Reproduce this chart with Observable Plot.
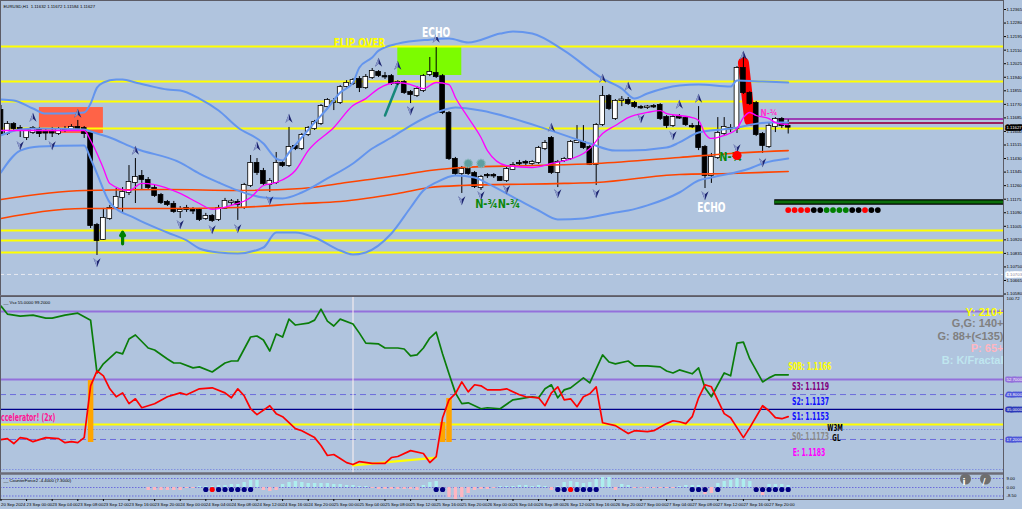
<!DOCTYPE html>
<html>
<head>
<meta charset="utf-8">
<script src="https://cdn.jsdelivr.net/npm/d3@7"></script>
<script src="https://cdn.jsdelivr.net/npm/@observablehq/plot@0.6"></script>
<style>
html, body { margin: 0; padding: 0; background: #b0c4de; }
#chart { position: relative; width: 1022px; height: 509px; overflow: hidden; background: #b0c4de; }
</style>
</head>
<body>
<div id="chart"></div>
<script>
// ===================== DATA =====================
const header = "EURUSD,H1  1.11632 1.11672 1.11584 1.11627";
// H1 candles, prices in points (1e-5)
const openPts = [111731,111587,111643,111618,111562,111593,111612,111593,111593,111587,111612,111606,111625,111618,111587,111010,110923,111054,111123,111186,111217,111280,111317,111292,111242,111198,111154,111142,111098,111117,111104,111104,111054,111067,111048,111117,111154,111154,111123,111261,111399,111349,111267,111280,111399,111386,111506,111493,111581,111618,111650,111756,111781,111781,111882,111901,111926,111875,111938,111970,111944,111944,111901,111907,111844,111825,111857,111957,111963,111944,111712,111424,111336,111361,111336,111248,111324,111324,111311,111292,111361,111399,111405,111399,111405,111493,111556,111343,111418,111430,111531,111531,111499,111393,111643,111819,111681,111794,111794,111775,111750,111750,111756,111763,111687,111637,111687,111681,111631,111631,111499,111324,111437,111587,111618,111618,111995,111838,111775,111581,111506,111631,111675,111632];
const highPts = [111763,111662,111656,111637,111618,111631,111625,111618,111625,111625,111631,111643,111669,111631,111600,111023,111117,111136,111242,111248,111386,111430,111355,111311,111261,111211,111167,111161,111129,111136,111123,111117,111086,111079,111136,111180,111173,111173,111274,111449,111430,111368,111305,111468,111412,111625,111518,111587,111631,111669,111769,111806,111806,111888,111919,111932,111944,111957,111995,111982,111970,111957,111919,111919,111857,111882,111957,112064,112126,111957,111725,111437,111380,111374,111349,111324,111336,111336,111317,111374,111405,111418,111418,111418,111506,111543,111568,111418,111437,111543,111637,111637,111512,111650,111882,111832,111800,111819,111813,111788,111763,111763,111769,111775,111700,111700,111706,111694,111650,111756,111512,111462,111687,111687,111643,112007,112095,111850,111788,111593,111656,111687,111687,111672];
const lowPts = [111575,111575,111600,111562,111543,111581,111562,111543,111562,111575,111593,111600,111606,111556,110991,110822,110916,111042,111111,111086,111198,111148,111230,111230,111186,111142,111129,111086,111054,111092,111079,111035,111042,111029,111035,111111,111136,111042,111111,111248,111324,111261,111217,111267,111374,111374,111480,111480,111568,111606,111637,111744,111731,111769,111869,111888,111844,111863,111926,111938,111926,111888,111888,111832,111775,111813,111844,111944,111932,111706,111418,111324,111211,111324,111242,111230,111305,111305,111286,111280,111355,111386,111386,111386,111393,111480,111330,111248,111405,111418,111524,111487,111386,111261,111631,111731,111669,111756,111763,111744,111738,111738,111744,111669,111618,111625,111675,111631,111618,111480,111242,111274,111424,111568,111593,111587,111832,111763,111568,111462,111493,111593,111618,111584];
const closePts = [111587,111643,111618,111615,111606,111618,111587,111590,111590,111612,111610,111625,111618,111587,111010,110916,111054,111117,111186,111217,111280,111311,111299,111248,111198,111154,111142,111098,111104,111111,111101,111048,111067,111042,111117,111161,111158,111142,111261,111399,111343,111274,111286,111399,111386,111499,111493,111575,111618,111656,111756,111794,111785,111875,111901,111919,111875,111938,111976,111951,111942,111901,111907,111844,111832,111863,111944,111970,111944,111719,111430,111336,111361,111336,111255,111311,111322,111321,111292,111361,111386,111397,111402,111405,111493,111524,111343,111405,111424,111531,111537,111499,111393,111637,111819,111744,111788,111797,111775,111756,111748,111753,111754,111681,111637,111687,111684,111643,111629,111499,111324,111437,111587,111625,111616,111995,111844,111775,111581,111512,111631,111675,111637,111627];

// Bollinger bands (bar index, points)
const upperBar = [0,2,5,7,10,13,14,15,16,18,19,21,23,26,28,31,34,37,41,43,44,45,47,49,51,53,55,56,58,59,62,67,70,73,78,80,83,88,94,97,99,101,106,109,114,115,119,123];
const upperPts = [111800,111794,111744,111712,111712,111719,111775,111875,111907,111926,111926,111907,111888,111863,111857,111806,111731,111625,111524,111430,111418,111468,111562,111656,111744,111844,111907,112001,112064,112107,112151,112176,112183,112158,112214,112227,112214,112107,111932,111869,111806,111838,111888,111894,111882,111919,111913,111907];
const midBar = [0,3,6,13,14,17,21,28,31,34,37,41,44,47,51,55,58,61,64,67,71,75,80,85,92,96,98,104,106,109,114,120,123];
const midPts = [111575,111612,111618,111612,111600,111562,111493,111405,111336,111280,111230,111186,111180,111217,111305,111399,111493,111562,111637,111700,111750,111731,111681,111618,111524,111480,111480,111499,111531,111593,111618,111656,111656];
const lowerBar = [0,3,6,13,14,15,17,21,26,29,31,34,37,41,43,46,49,53,55,57,61,64,66,68,71,74,76,81,84,87,91,96,98,101,106,109,111,117,119,123];
const lowerPts = [111343,111480,111506,111512,111430,111336,111154,111054,110966,110916,110866,110841,110835,110872,110966,110966,110935,110853,110828,110841,110960,111123,111230,111280,111324,111311,111274,111167,111104,111048,111054,111092,111104,111136,111217,111292,111311,111368,111399,111430];
// fast MA (magenta)
const fastBar = [0,6,13,14,15,16,17,20,22,24,28,31,33,36,39,41,43,46,48,52,55,57,59,62,64,66,68,70,71,73,75,76,79,83,86,91,92,94,96,98,101,103,104,106,108,109,110,111,113,115,116,117,118,120,121,123];
const fastPts = [111606,111606,111606,111543,111462,111368,111274,111230,111274,111267,111211,111148,111111,111136,111186,111261,111280,111355,111480,111625,111763,111806,111869,111907,111894,111869,111907,111894,111813,111687,111562,111480,111386,111374,111399,111462,111493,111587,111637,111687,111719,111731,111712,111700,111687,111669,111587,111556,111575,111618,111687,111719,111700,111681,111656,111643];
// slow MAs (orange-red)
const slow1Bar = [0,13,26,37,47,53,62,67,72,83,93,106,114,123];
const slow1Pts = [111173,111230,111236,111230,111242,111274,111324,111355,111374,111386,111399,111437,111462,111480];
const slow2Bar = [0,13,26,37,47,53,62,67,72,88,93,106,114,123];
const slow2Pts = [111054,111117,111117,111123,111148,111161,111211,111248,111261,111274,111280,111330,111336,111349];

// horizontal levels (points)
const yellowLevelPts = [112133,111913,111788,111618,110979,110916,110841];
const dashedLevelPts = 110703;
const purpleLevelPts = [111678, 111653];
const levelStartBar = 121;
const statusLinePts = 111158, statusLineStart = 120.9;
const statusDotPts = 111107;
const statusDotBar = [123,124,125,126,127,128,129,130,131,132,133,134,135,136,137];
const statusDotColor = ["red","red","red","red","black","black","green","green","green","green","black","black","red","black","black"];

// zones
const zoneBar1 = [6, 62], zoneBar2 = [16, 72];
const zoneTopPts = [111750, 112133], zoneBotPts = [111587, 111951];
const strokeBars = [116, 117], strokePts = [112032, 111669];     // red highlight
const tealBars = [60, 62], tealPts = [111700, 111901];           // teal trendline
const signalBar = 19, signalFromPts = 110895, signalToPts = 110968; // green up arrow
const gearBar = [73, 75], gearPts = 111399;
const blobBar = 115, blobPts = 111449;

// fractals
const upFractalBar = [5,12,21,40,45,59,62,68,86,94,98,106,109,116];
const upFractalPts = [111687,111712,111480,111506,111681,112032,112013,112183,111625,111932,111882,111769,111806,112076];
const downFractalBar = [3,8,15,28,33,37,42,64,72,75,79,87,93,100,105,110,115,119];
const downFractalPts = [111512,111512,110778,111017,110985,110991,111167,111731,111167,111198,111236,111211,111211,111681,111575,111198,111493,111405];

// chart labels
const labelText = ["FLIP OVER","ECHO","ECHO","N-¾N-¾","N-¾","N-¾"];
const labelBar = [56, 68, 111, 77.6, 114, 120];
const labelPts = [112158, 112220, 111120, 111142, 111437, 111712];

const priceTicks = [1.12365,1.12280,1.12195,1.12110,1.12025,1.11940,1.11855,1.11770,1.11685,1.11600,1.11515,1.11430,1.11345,1.11260,1.11175,1.11090,1.11005,1.10920,1.10835,1.10750,1.10665,1.10580];

// oscillator panel
const oscTitle = "Vsx 55.0000 99.2000";
const greenBar = [0,1,3,5,7,8,10,11,12,14,15,16,18,19,20,21,23,24,26,27,28,30,31,33,35,36,37,39,40,41,42,43,44,45,46,48,49,50,51,52,53,55,56,57,59,60,62,63,64,65,66,67,68,69,70,71,72,73,75,76,78,80,81,83,84,85,86,87,88,89,91,92,94,95,96,98,99,101,103,104,105,106,108,109,110,111,113,114,115,116,117,119,120,121,123];
const greenVal = [96.2,91.5,90.3,90.9,89.1,89.1,90.9,91.5,92.0,87.9,56.6,62.0,69.0,67.9,76.7,79.1,71.4,70.2,64.9,62.5,62.5,59.6,60.2,57.2,62.5,63.7,63.7,77.9,78.5,76.1,69.6,79.7,77.9,88.5,85.0,86.1,87.9,94.4,87.3,84.4,88.5,85.6,80.2,74.3,73.8,71.4,71.4,70.8,66.7,67.3,71.4,77.3,80.8,67.9,56.1,44.8,38.4,38.9,35.4,36.0,35.4,40.7,41.3,42.5,41.9,47.2,49.6,41.9,46.6,47.8,53.7,50.7,67.3,63.1,62.0,63.7,60.8,60.8,60.2,57.8,56.6,58.4,56.1,59.6,47.8,42.5,56.6,54.9,74.3,74.9,64.9,51.3,53.7,55.5,55.5];
const redBar = [0,1,2,3,4,5,7,9,10,11,12,13,14,15,16,17,18,19,20,21,22,24,26,28,29,31,33,35,36,37,38,39,40,42,43,44,46,47,49,50,51,52,53,54,55,56,58,60,61,62,64,66,67,68,69,70,71,72,73,74,75,76,78,79,81,82,84,85,86,87,88,89,90,91,92,93,94,96,98,99,101,102,104,105,106,107,108,109,110,111,113,114,116,117,119,120,121,122,123];
const redVal = [17.1,17.7,14.8,18.3,17.7,15.9,18.3,17.7,15.3,15.9,15.3,18.3,49.0,57.8,54.9,47.2,42.5,44.8,38.4,41.3,36.0,38.4,42.5,44.8,43.7,47.2,47.8,44.8,41.9,47.2,43.1,35.4,31.9,37.2,32.5,30.7,23.6,22.4,18.3,13.6,7.7,8.3,5.9,3.5,2.4,4.1,3.0,3.0,6.5,7.1,10.6,8.9,3.5,7.1,30.1,40.7,44.3,51.3,45.4,49.6,49.0,46.6,46.6,47.2,43.7,42.5,41.9,37.2,44.8,48.4,40.7,41.3,36.6,42.5,44.3,48.4,27.1,25.4,20.7,22.4,21.8,22.4,26.6,28.3,27.7,26.6,30.7,41.9,49.6,48.4,32.5,30.1,18.3,24.2,37.2,34.2,30.1,29.5,30.7];
const accelBar = [14, 69, 70], accelLo = [15.4, 15.4, 15.4], accelHi = [52.1, 27.3, 41.5];
const trendBar = [55, 68], trendVal = [1.8, 6.5];
const cursorBar = 55;
const purpleLv = [93.0, 52.7], dashedLv = [43.8, 17.2], navyLv = [35.0], yellowLv = [26.1], dottedLv = [23.1, -0.6];
const boxLv = [52.7, 43.8, 35.0, 17.2];
const oscTopLabel = 100.72;
const infoText = ["Y: 210+","G,G: 140+","G: 88+(<135)","P: 65+","B: K/Fractal"];
const pivotText = ["S0B: 1.1166","S3: 1.1119","S2: 1.1137","S1: 1.1153","S0: 1.1173","E: 1.1183"];
const pivotBar = [123, 123.6, 123.6, 123.6, 123.6, 123.7];
const pivotVal = [60.4, 48.6, 39.7, 30.8, 19.0, 9.5];
const tagText = ["W3M", "GL"], tagBar = [129.1, 129.9], tagVal = [23.9, 17.9];
const accelText = "Accelerator! (2x)", accelTextBar = 8.5, accelTextVal = 30.2;

// counter-force panel
const cfTitle = "CounterForce2 -4.4000 (7.3000)";
const cfStart = 23;
const cfHist = [-3,-3,-3,-3,-3,-3,-1,-1,1,1,1,2,2,3,3,5,7,7,-3,-4,-3,3,5,6,5,4,4,4,4,3,3,2,2,1,1,-1,-2,-2,-2,-2,-2,-2,-3,2,5,6,-5,-10,-12,-10,-6,-3,-2,-2,-1,1,1,
                1,2,2,1,2,1,-3,1,5,6,5,4,5,8,10,10,-3,3,2,-1,-1,-1,-1,-1,-1,-1,1,2,2,2,-7,-6,4,6,7,9,8,6,-4,-8,3,3,3,2];
const cfLevels = [9, 0, -8.5];
const cfDotBar = [32,33,34,35,36,37,38,39,68,69,87,88,89,90,91,92,93,108,109,110,112,118,119,120,121,122,123];
const cfDotRed = [33, 89];
const cfDotVal = -2;
const timeTicks = d3.range(0, 121, 4);
const timeLabels = ["20 Sep 2024","23 Sep 00:00","23 Sep 04:00","23 Sep 08:00","23 Sep 12:00","23 Sep 16:00","23 Sep 20:00","24 Sep 00:00","24 Sep 04:00","24 Sep 08:00","24 Sep 12:00","24 Sep 16:00","24 Sep 20:00","25 Sep 00:00","25 Sep 04:00","25 Sep 08:00","25 Sep 12:00","25 Sep 16:00","25 Sep 20:00","26 Sep 00:00","26 Sep 04:00","26 Sep 08:00","26 Sep 12:00","26 Sep 16:00","26 Sep 20:00","27 Sep 00:00","27 Sep 04:00","27 Sep 08:00","27 Sep 12:00","27 Sep 16:00","27 Sep 20:00"];

// ===================== RENDER =====================
const X_DOMAIN = [-0.078, 156.64];
const WIDTH = 1022, MR = 19;
const BOLD = "DejaVu Sans, sans-serif";
const SANS = "Liberation Sans, Arial, sans-serif";
const P = v => v / 1e5;
const style = top => `position:absolute;left:0;top:${top}px;background:transparent;overflow:hidden;font-family:${SANS};max-width:none;`;
const pts = (xs, vs, f = P) => xs.map((x, k) => ({x, y: f(vs[k])}));

const arrowSym = (dir, half) => ({
  draw(ctx, size) {
    const r = Math.sqrt(size / Math.PI), s = dir;
    ctx.moveTo(0, -1.15 * r * s);
    if (!half) ctx.lineTo(0.85 * r, r * s);
    ctx.lineTo(0, 0.3 * r * s);
    ctx.lineTo(-0.85 * r, r * s);
    ctx.closePath();
  }
});

const bars = openPts.map((o, i) => ({i, o: P(o), h: P(highPts[i]), l: P(lowPts[i]), c: P(closePts[i])}));
const zones = zoneBar1.map((b, k) => ({x1: b, x2: zoneBar2[k], y1: P(zoneBotPts[k]), y2: P(zoneTopPts[k])}));
const upFr = pts(upFractalBar, upFractalPts), dnFr = pts(downFractalBar, downFractalPts);
const lab = labelText.map((t, k) => ({t, x: labelBar[k], y: P(labelPts[k])}));
const lineOpt = (stroke, w) => ({x: "x", y: "y", stroke, strokeWidth: w, curve: "monotone-x"});
const txt = (d, o) => Plot.text([d], {x: "x", y: "y", text: "t", fontWeight: "bold", fontFamily: BOLD, ...o});

const mainPlot = Plot.plot({
  width: WIDTH, height: 297, marginLeft: 0, marginRight: MR, marginTop: 0, marginBottom: 1,
  x: {domain: X_DOMAIN, axis: null},
  y: {domain: [1.105646, 1.124215], axis: null},
  color: {type: "identity"},
  style: style(0),
  marks: [
    Plot.rect([zones[0]], {x1: "x1", x2: "x2", y1: "y1", y2: "y2", fill: "#ff6347"}),
    Plot.rect([zones[1]], {x1: "x1", x2: "x2", y1: "y1", y2: "y2", fill: "#7cfc00"}),
    Plot.ruleY(yellowLevelPts.map(P), {stroke: "#ffff00", strokeWidth: 2}),
    Plot.ruleY([P(dashedLevelPts)], {stroke: "#e6e9f2", strokeDasharray: "4,3"}),
    Plot.ruleY([P(purpleLevelPts[0])], {x1: levelStartBar, x2: X_DOMAIN[1], stroke: "#9b3fb5", strokeWidth: 2}),
    Plot.ruleY([P(purpleLevelPts[1])], {x1: levelStartBar, x2: X_DOMAIN[1], stroke: "#9a1f5e", strokeWidth: 2}),
    Plot.ruleY([P(statusLinePts)], {x1: statusLineStart, x2: X_DOMAIN[1], stroke: "#000", strokeWidth: 5.5}),
    Plot.ruleY([P(statusLinePts)], {x1: statusLineStart, x2: X_DOMAIN[1], stroke: "#0b6e0b", strokeWidth: 3}),
    Plot.dot(statusDotBar.map((b, k) => ({x: b, c: statusDotColor[k]})), {x: "x", y: () => P(statusDotPts), fill: "c", r: 2.9}),
    Plot.line(pts(strokeBars, strokePts), {x: "x", y: "y", stroke: "#ff0000", strokeWidth: 11, strokeLinecap: "round"}),
    Plot.line(pts(tealBars, tealPts), {x: "x", y: "y", stroke: "#17877a", strokeWidth: 2.5}),
    Plot.ruleX(bars, {x: "i", y1: "l", y2: "h", stroke: "#000", strokeWidth: 1}),
    Plot.rect(bars, {x1: d => d.i - 0.37, x2: d => d.i + 0.37, y1: "o", y2: "c",
      fill: d => d.c > d.o ? "#fff" : "#000", stroke: "#000", strokeWidth: 0.8, insetTop: -0.5, insetBottom: -0.5}),
    Plot.line(pts(slow1Bar, slow1Pts), lineOpt("#ff4500", 1.6)),
    Plot.line(pts(slow2Bar, slow2Pts), lineOpt("#ff4500", 1.6)),
    Plot.line(pts(upperBar, upperPts), lineOpt("#6495ed", 2)),
    Plot.line(pts(midBar, midPts), lineOpt("#6495ed", 2)),
    Plot.line(pts(lowerBar, lowerPts), lineOpt("#6495ed", 2)),
    Plot.line(pts(fastBar, fastPts), lineOpt("#ff00ff", 1.3)),
    Plot.dot(upFr, {x: "x", y: "y", symbol: arrowSym(1, false), r: 4.2, fill: "#1d2570"}),
    Plot.dot(upFr, {x: "x", y: "y", symbol: arrowSym(1, true), r: 4.2, fill: "#8c9bcc"}),
    Plot.dot(dnFr, {x: "x", y: "y", symbol: arrowSym(-1, false), r: 4.2, fill: "#1d2570"}),
    Plot.dot(dnFr, {x: "x", y: "y", symbol: arrowSym(-1, true), r: 4.2, fill: "#8c9bcc"}),
    Plot.arrow([{x: signalBar, y1: P(signalFromPts), y2: P(signalToPts)}], {x1: "x", x2: "x", y1: "y1", y2: "y2", stroke: "#008000", strokeWidth: 3.2, headLength: 7}),
    Plot.dot(gearBar.map(x => ({x})), {x: "x", y: () => P(gearPts), r: 4, fill: "#5f9ea0", stroke: "#7fb4b4", strokeDasharray: "1.5,1"}),
    txt(lab[0], {fill: "#ffff00", fontSize: 13}),
    txt(lab[1], {fill: "#ffffff", fontSize: 14}),
    txt(lab[2], {fill: "#ffffff", fontSize: 14}),
    txt(lab[3], {fill: "#0c870c", fontSize: 12}),
    txt(lab[4], {fill: "#0c870c", fontSize: 12}),
    Plot.dot([{x: blobBar}], {x: "x", y: () => P(blobPts), r: 4.6, fill: "#ff0000"}),
    txt(lab[5], {fill: "#ff33cc", fontSize: 9}),
    Plot.frame({stroke: "#5c5c66"}),
    Plot.ruleY([1.105646], {stroke: "#6c6c78", strokeWidth: 3}),
    Plot.axisY({anchor: "right", ticks: priceTicks, tickFormat: d => d.toFixed(5), tickSize: 2, tickPadding: 1, fontSize: 4.3, label: null}),
    Plot.text([P(closePts[closePts.length - 1])], {y: d => d, frameAnchor: "right", dx: 3, textAnchor: "start", text: d => d.toFixed(5), fill: "#fff", stroke: "#000", strokeWidth: 3.5, paintOrder: "stroke", fontSize: 4.3}),
    Plot.text([P(dashedLevelPts)], {y: d => d, frameAnchor: "right", dx: 3, textAnchor: "start", text: d => d.toFixed(5), fill: "#8a8a9a", stroke: "#fff", strokeWidth: 3.5, paintOrder: "stroke", fontSize: 4.3}),
    Plot.text([header], {frameAnchor: "top-left", dx: 3, dy: 4, text: d => d, fontSize: 4.3, fill: "#000"})
  ]
});

const oscPlot = Plot.plot({
  width: WIDTH, height: 178, marginLeft: 0, marginRight: MR, marginTop: 0, marginBottom: 1,
  x: {domain: X_DOMAIN, axis: null},
  y: {domain: [-2.96, 101.9], axis: null},
  color: {type: "identity"},
  style: style(296),
  marks: [
    Plot.ruleY(purpleLv, {stroke: "#9370db", strokeWidth: 2}),
    Plot.ruleY(dashedLv, {stroke: "#6b6bdc", strokeDasharray: "6,4"}),
    Plot.ruleY(navyLv, {stroke: "#00008b", strokeWidth: 1.3}),
    Plot.ruleY(yellowLv, {stroke: "#ffff00", strokeWidth: 2}),
    Plot.ruleY(dottedLv, {stroke: "#7f8fe0", strokeDasharray: "1.5,1.5"}),
    Plot.ruleX([cursorBar], {stroke: "#fff2f2", strokeWidth: 1}),
    Plot.line(pts(trendBar, trendVal, v => v), {x: "x", y: "y", stroke: "#ffff00", strokeWidth: 2.2}),
    Plot.ruleX(accelBar.map((b, k) => ({x: b, lo: accelLo[k], hi: accelHi[k]})), {x: "x", y1: "lo", y2: "hi", stroke: "#ffa500", strokeWidth: 5.5}),
    Plot.line(pts(greenBar, greenVal, v => v), {x: "x", y: "y", stroke: "#0a7d0a", strokeWidth: 1.7}),
    Plot.line(pts(redBar, redVal, v => v), {x: "x", y: "y", stroke: "#ff0000", strokeWidth: 1.7}),
    Plot.text([accelText], {x: accelTextBar, y: accelTextVal, text: d => d, textAnchor: "end", fill: "#ff1493", fontSize: 10, fontWeight: "bold", fontFamily: BOLD}),
    ...infoText.map((t, k) => Plot.text([t], {frameAnchor: "top-right", dy: [16, 27, 40, 52, 64][k], text: d => d, textAnchor: "end", lineAnchor: "middle",
      fill: ["#ffff00", "#808080", "#808080", "#ffb6c1", "#bfe6ef"][k], fontSize: 11, fontWeight: "bold", fontFamily: SANS})),
    ...pivotText.map((t, k) => Plot.text([t], {x: pivotBar[k], y: pivotVal[k], text: d => d, textAnchor: "start",
      fill: ["#ffff00", "#800080", "#1010ff", "#1010ff", "#8a8a8a", "#ff00ff"][k], fontSize: 11, fontWeight: "bold", fontFamily: BOLD})),
    Plot.text(tagText.map((t, k) => ({t, x: tagBar[k], y: tagVal[k]})), {x: "x", y: "y", text: "t", textAnchor: "start", fill: "#000", fontSize: 9, fontWeight: "bold", fontFamily: BOLD}),
    Plot.frame({stroke: "#5c5c66"}),
    Plot.ruleY([-2.96], {stroke: "#6c6c78", strokeWidth: 2.5}),
    Plot.text(boxLv, {y: d => d, frameAnchor: "right", dx: 3, textAnchor: "start", text: d => d.toFixed(4), fill: "#fff",
      stroke: (d, k) => ["#9370db", "#4b55d8", "#2a38b8", "#4b55d8"][k], strokeWidth: 3.2, paintOrder: "stroke", fontSize: 4.3}),
    Plot.text([oscTopLabel], {y: d => d, frameAnchor: "right", dx: 3, textAnchor: "start", text: d => d.toFixed(2), fontSize: 4.3, fill: "#000"}),
    Plot.text([oscTitle], {frameAnchor: "top-left", dx: 3, dy: 4, text: d => "__ " + d, fontSize: 4.3, fill: "#000"})
  ]
});

const hist = cfHist.map((v, k) => ({x: cfStart + k, v}));
const cfPlot = Plot.plot({
  width: WIDTH, height: 36, marginLeft: 0, marginRight: MR, marginTop: 0, marginBottom: 10,
  x: {domain: X_DOMAIN, axis: null},
  y: {domain: [-12, 14], axis: null},
  color: {type: "identity"},
  style: style(473),
  marks: [
    Plot.ruleY(cfLevels, {stroke: "#6b6bdc", strokeDasharray: "1.5,1.5"}),
    Plot.ruleX(hist, {x: "x", y1: 0, y2: "v", stroke: d => d.v >= 0 ? "#aeeeee" : "#ffb6c1", strokeWidth: 3.4}),
    Plot.dot(cfDotBar.map(x => ({x, c: cfDotRed.includes(x) ? "#ff0000" : "#000080"})), {x: "x", y: () => cfDotVal, fill: "c", r: 2.6}),
    Plot.dot([0], {frameAnchor: "top-right", dx: -38, dy: 5.5, r: 5.5, fill: "#6e6e6e"}),
    Plot.dot([0], {frameAnchor: "top-right", dx: -18, dy: 5.5, r: 5.5, fill: "#6e6e6e"}),
    Plot.text(["i"], {frameAnchor: "top-right", dx: -38, dy: 5.5, text: d => d, fill: "#fff", fontSize: 9, fontWeight: "bold", fontFamily: BOLD}),
    Plot.text(["/"], {frameAnchor: "top-right", dx: -18, dy: 5.5, text: d => d, fill: "#fff", fontSize: 9, fontWeight: "bold", fontFamily: BOLD}),
    Plot.frame({stroke: "#5c5c66"}),
    Plot.ruleY([14], {stroke: "#6c6c78", strokeWidth: 2.5}),
    Plot.text(cfLevels, {y: d => d, frameAnchor: "right", dx: 3, textAnchor: "start", text: d => d.toFixed(2), fontSize: 4.3, fill: "#000"}),
    Plot.axisX({anchor: "bottom", ticks: timeTicks, tickFormat: d => timeLabels[timeTicks.indexOf(d)], tickSize: 2, tickPadding: 1,
      textAnchor: "start", dx: 0, fontSize: 4.3, label: null}),
    Plot.text([cfTitle], {frameAnchor: "top-left", dx: 3, dy: 5, text: d => "__ " + d, fontSize: 4.3, fill: "#000"})
  ]
});

const host = document.getElementById("chart");
[mainPlot, oscPlot, cfPlot].forEach(svg => host.appendChild(svg));

// narrow (condensed) rendering of the indicator labels, matched by their text
const narrow = [["FLIP OVER", 0.68], ["ECHO", 0.65], ["N-¾", 0.82], ["Accelerator", 0.62], ["S0B:", 0.58],
  ["S3:", 0.56], ["S2:", 0.56], ["S1:", 0.56], ["S0:", 0.56], ["E: ", 0.56], ["W3M", 0.62], ["GL", 0.62]];
host.querySelectorAll("text").forEach(t => {
  const s = (t.textContent || "").trim();
  const hit = narrow.find(([p]) => s.startsWith(p));
  if (!hit) return;
  let L = 0;
  try { L = t.getComputedTextLength(); } catch (e) { L = 0; }
  if (!(L > 0)) { try { L = t.getBBox().width; } catch (e) { L = 0; } }
  if (L > 0) {
    t.setAttribute("textLength", (L * hit[1]).toFixed(1));
    t.setAttribute("lengthAdjust", "spacingAndGlyphs");
  }
});
</script>
</body>
</html>
